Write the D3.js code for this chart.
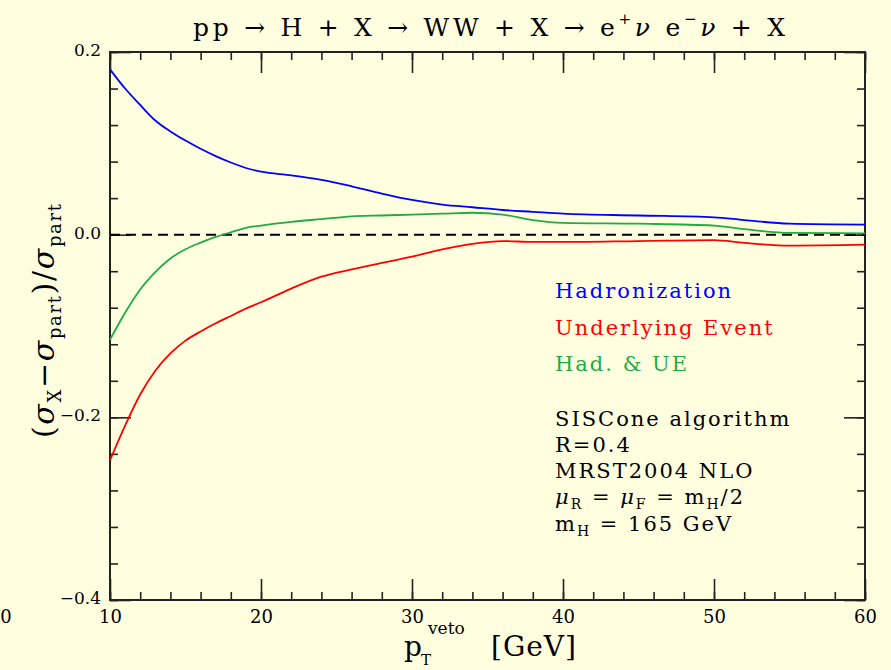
<!DOCTYPE html>
<html>
<head>
<meta charset="utf-8">
<script src="https://cdn.jsdelivr.net/npm/d3@7"></script>
<style>
  body { margin: 0; background: #ffffe0; }
  text { fill: #000; }
</style>
</head>
<body>
<svg id="chart" width="891" height="670"></svg>
<script>
// pT veto values [GeV]
const ptVeto = [10, 11, 12, 13, 14, 15, 16, 17, 18, 19, 20, 22, 24, 26, 28, 30, 32, 34, 36, 38, 40, 45, 50, 52, 55, 60];
// (sigma_X - sigma_part) / sigma_part
const hadronization = [0.181, 0.160, 0.142, 0.125, 0.113, 0.103, 0.094, 0.086, 0.079, 0.073, 0.069, 0.065, 0.060, 0.053, 0.045, 0.038, 0.033, 0.030, 0.027, 0.025, 0.023, 0.021, 0.019, 0.016, 0.012, 0.011];
const underlyingEvent = [-0.247, -0.209, -0.175, -0.149, -0.130, -0.116, -0.106, -0.097, -0.089, -0.081, -0.074, -0.059, -0.046, -0.038, -0.031, -0.024, -0.016, -0.010, -0.007, -0.008, -0.008, -0.007, -0.006, -0.009, -0.012, -0.011];
const hadAndUE = [-0.115, -0.0855, -0.060, -0.041, -0.026, -0.016, -0.0088, -0.0025, 0.0026, 0.0075, 0.010, 0.014, 0.017, 0.020, 0.021, 0.022, 0.023, 0.024, 0.022, 0.016, 0.013, 0.012, 0.010, 0.006, 0.002, 0.0015];

const seriesNames = ['Hadronization', 'Underlying Event', 'Had. & UE'];
const seriesColors = ['#0000ff', '#ff0000', '#22aa44'];
const seriesValues = [hadronization, underlyingEvent, hadAndUE];

const xMajor = [10, 20, 30, 40, 50, 60];
const xMinor = d3.range(10, 61, 2);
const yMajor = [0.2, 0.0, -0.2, -0.4];
const yMinor = d3.range(0.2, -0.401, -0.04);

const svg = d3.select('#chart');
const W = 891, H = 670;
const mLeft = 110, mRight = 865, mTop = 52, mBottom = 600;
const serif = 'DejaVu Serif';

svg.append('rect').attr('width', W).attr('height', H).attr('fill', '#ffffe0');

const x = d3.scaleLinear().domain([10, 60]).range([mLeft, mRight]);
const y = d3.scaleLinear().domain([-0.4, 0.2]).range([mBottom, mTop]);

const frameColor = '#222';

// minor and major ticks on all four sides, pointing inwards
function tickAxis(axisFn, scale, values, size, transform) {
  const g = svg.append('g')
    .attr('transform', transform)
    .call(axisFn(scale).tickValues(values).tickSize(size).tickFormat(''));
  g.select('.domain').remove();
  g.selectAll('line').attr('stroke', frameColor).attr('stroke-width', 1.6);
  return g;
}
tickAxis(d3.axisBottom, x, xMinor, -8, `translate(0,${mBottom})`);
tickAxis(d3.axisBottom, x, xMajor, -21, `translate(0,${mBottom})`);
tickAxis(d3.axisTop, x, xMinor, -8, `translate(0,${mTop})`);
tickAxis(d3.axisTop, x, xMajor, -21, `translate(0,${mTop})`);
tickAxis(d3.axisLeft, y, yMinor, -8, `translate(${mLeft},0)`);
tickAxis(d3.axisLeft, y, yMajor, -21, `translate(${mLeft},0)`);
tickAxis(d3.axisRight, y, yMinor, -8, `translate(${mRight},0)`);
tickAxis(d3.axisRight, y, yMajor, -21, `translate(${mRight},0)`);

// frame
svg.append('rect')
  .attr('x', mLeft).attr('y', mTop)
  .attr('width', mRight - mLeft).attr('height', mBottom - mTop)
  .attr('fill', 'none').attr('stroke', frameColor).attr('stroke-width', 2);

// tick labels
const xLab = svg.append('g')
  .attr('transform', `translate(0,${mBottom})`)
  .call(d3.axisBottom(x).tickValues(xMajor).tickSize(0).tickPadding(0).tickFormat(d3.format('d')));
xLab.select('.domain').remove();
xLab.selectAll('text')
  .attr('y', 23).attr('dy', 0)
  .attr('font-family', serif).attr('font-size', 18)
  .attr('fill', '#000');
// stray clipped label at the far left
svg.append('text').attr('x', 6).attr('y', 623).attr('text-anchor', 'middle')
  .attr('font-family', serif).attr('font-size', 18)
  .text('0');

const yLab = svg.append('g')
  .attr('transform', `translate(${mLeft},0)`)
  .call(d3.axisLeft(y).tickValues(yMajor).tickSize(0).tickPadding(9)
    .tickFormat(d => d3.format('.1f')(d).replace('-', '\u2212')));
yLab.select('.domain').remove();
yLab.selectAll('text')
  .attr('font-family', serif).attr('font-size', 17)
  .attr('dy', '0.2em').attr('fill', '#000');

// zero line
svg.append('line')
  .attr('x1', mLeft).attr('x2', mRight)
  .attr('y1', y(0)).attr('y2', y(0))
  .attr('stroke', '#000').attr('stroke-width', 2)
  .attr('stroke-dasharray', '10,6');

// curves
const line = d3.line()
  .x((d, i) => x(ptVeto[i]))
  .y(d => y(d))
  .curve(d3.curveMonotoneX);

svg.append('g').selectAll('path')
  .data(seriesValues)
  .join('path')
  .attr('d', line)
  .attr('fill', 'none')
  .attr('stroke', (d, i) => seriesColors[i])
  .attr('stroke-width', 1.8);

// legend
svg.append('g').selectAll('text')
  .data(seriesNames)
  .join('text')
  .attr('x', 555)
  .attr('y', (d, i) => 298 + i * 36.5)
  .attr('font-family', serif).attr('font-size', 21)
  .attr('letter-spacing', 2)
  .style('fill', (d, i) => seriesColors[i])
  .text(d => d);

// info block
const info = svg.append('g')
  .attr('font-family', serif).attr('font-size', 21).attr('letter-spacing', 2);
info.append('text').attr('x', 555).attr('y', 426).text('SISCone algorithm');
info.append('text').attr('x', 555).attr('y', 452).text('R=0.4');
info.append('text').attr('x', 555).attr('y', 478).text('MRST2004 NLO');
const mu = info.append('text').attr('x', 555).attr('y', 504);
mu.append('tspan').attr('font-style', 'italic').text('\u03bc');
mu.append('tspan').attr('font-size', 14).attr('dy', 5).text('R');
mu.append('tspan').attr('dy', -5).text(' = ');
mu.append('tspan').attr('font-style', 'italic').text('\u03bc');
mu.append('tspan').attr('font-size', 14).attr('dy', 5).text('F');
mu.append('tspan').attr('dy', -5).text(' = m');
mu.append('tspan').attr('font-size', 14).attr('dy', 5).text('H');
mu.append('tspan').attr('dy', -5).text('/2');
const mh = info.append('text').attr('x', 555).attr('y', 531);
mh.append('tspan').text('m');
mh.append('tspan').attr('font-size', 14).attr('dy', 5).text('H');
mh.append('tspan').attr('dy', -5).text(' = 165 GeV');

// title
const title = svg.append('text')
  .attr('x', 193).attr('y', 36)
  .attr('font-family', serif).attr('font-size', 25)
  .attr('textLength', 592).attr('lengthAdjust', 'spacing');
title.append('tspan').text('pp \u2192 H + X \u2192 WW + X \u2192 e');
title.append('tspan').attr('font-size', 15).attr('dy', -12).text('+');
title.append('tspan').attr('dy', 12).attr('font-style', 'italic').text('\u03bd');
title.append('tspan').text(' e');
title.append('tspan').attr('font-size', 15).attr('dy', -12).text('\u2212');
title.append('tspan').attr('dy', 12).attr('font-style', 'italic').text('\u03bd');
title.append('tspan').text(' + X');

// x axis title: p_T^veto  [GeV]
const xTitle = svg.append('g').attr('font-family', serif);
xTitle.append('text').attr('x', 404).attr('y', 656).attr('font-size', 28).text('p');
xTitle.append('text').attr('x', 421).attr('y', 665).attr('font-size', 15).text('T');
xTitle.append('text').attr('x', 428).attr('y', 634).attr('font-size', 17).text('veto');
xTitle.append('text').attr('x', 491).attr('y', 656).attr('font-size', 28).attr('letter-spacing', 1).text('[GeV]');

// y axis title
const yt = svg.append('text')
  .attr('transform', 'translate(54,438) rotate(-90)')
  .attr('font-family', serif).attr('font-size', 30)
  .attr('textLength', 234).attr('lengthAdjust', 'spacing');
yt.append('tspan').text('(');
yt.append('tspan').attr('font-style', 'italic').text('\u03c3');
yt.append('tspan').attr('font-size', 18).attr('dy', 7).text('X');
yt.append('tspan').attr('dy', -7).text('\u2212');
yt.append('tspan').attr('font-style', 'italic').text('\u03c3');
yt.append('tspan').attr('font-size', 18).attr('dy', 7).text('part');
yt.append('tspan').attr('dy', -7).text(')/');
yt.append('tspan').attr('font-style', 'italic').text('\u03c3');
yt.append('tspan').attr('font-size', 18).attr('dy', 7).text('part');
</script>
</body>
</html>
